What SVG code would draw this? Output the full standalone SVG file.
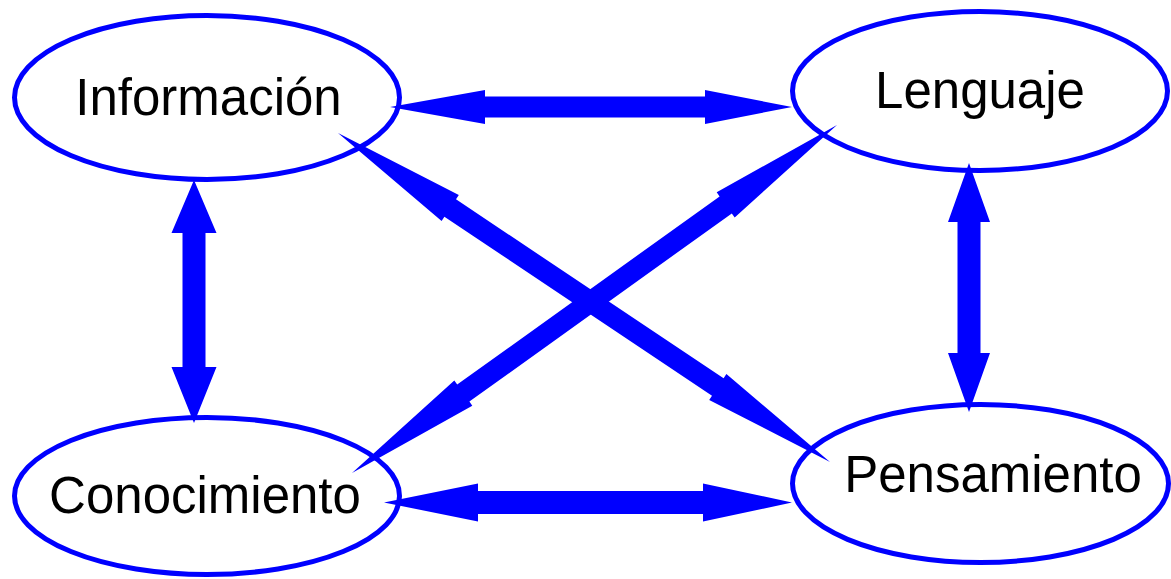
<svg xmlns="http://www.w3.org/2000/svg" width="1171" height="579" viewBox="0 0 1171 579">
<style>
.node{fill:#ffffff;stroke:#0000ff;stroke-width:5}
.lbl{font-family:"Liberation Sans",Arial,sans-serif;font-size:51px;fill:#000000;text-anchor:middle}
.arr{fill:#0000ff;stroke:none}
</style>
<rect width="1171" height="579" fill="#ffffff"/>
<g id="informacion">
<ellipse class="node" cx="207" cy="97.5" rx="192.5" ry="82"/>
<text class="lbl" x="208.5" y="115">Información</text>
</g>
<g id="lenguaje">
<ellipse class="node" cx="980" cy="91" rx="187.5" ry="79.5"/>
<text class="lbl" x="980" y="108">Lenguaje</text>
</g>
<g id="conocimiento">
<ellipse class="node" cx="207" cy="496" rx="192.5" ry="78.5"/>
<text class="lbl" x="205" y="513">Conocimiento</text>
</g>
<g id="pensamiento">
<ellipse class="node" cx="980.5" cy="483.5" rx="188" ry="79"/>
<text class="lbl" x="993" y="492">Pensamiento</text>
</g>
<g id="connectors">
<polygon class="arr" points="390,107 485,90 485,96.5 705,96.5 705,90 792,107 705,124 705,117.5 485,117.5 485,124"/>
<polygon class="arr" points="384,502.5 478,483.5 478,491 703,491 703,483.5 792,502.5 703,521.5 703,514 478,514 478,521.5"/>
<polygon class="arr" points="194,180 216.5,233 205.5,233 205.5,367 216.5,367 194,423 171.5,367 182.5,367 182.5,233 171.5,233"/>
<polygon class="arr" points="969,163 990,222 980.5,222 980.5,353 990,353 969,412 948,353 957.5,353 957.5,222 948,222"/>
<polygon class="arr" points="338,133 458.8,195.1 456,199.3 723.6,378.3 726.4,374.1 830,462 709.2,399.9 712,395.7 444.4,216.7 441.6,220.9"/>
<polygon class="arr" points="352,473 472.3,405.7 469.4,401.6 731.8,213.4 734.7,217.5 837,125 716.7,192.3 719.6,196.4 457.2,384.6 454.3,380.5"/>
</g>
</svg>
